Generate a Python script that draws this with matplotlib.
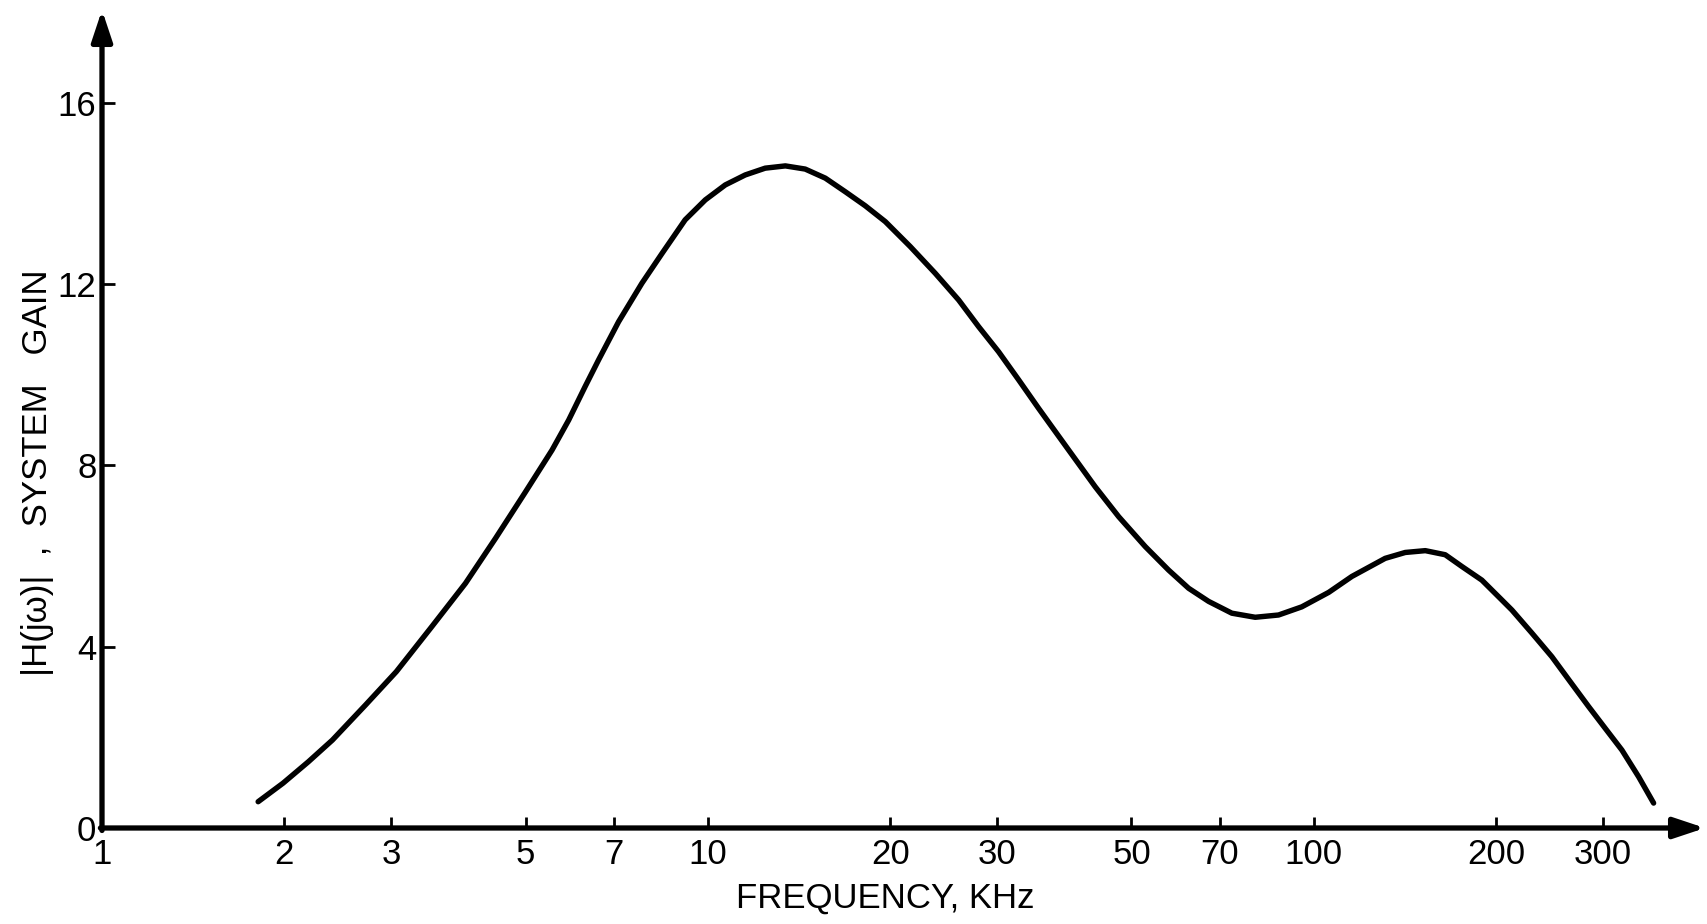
import matplotlib.pyplot as plt
import numpy as np

# gain curve
freq_khz = [1.81, 1.99, 2.19, 2.40, 2.72, 3.06, 3.50, 3.98, 4.46, 4.99,
            5.53, 5.89, 6.27, 6.60, 7.12, 7.78, 8.40, 9.17, 9.90, 10.68,
            11.52, 12.43, 13.42, 14.47, 15.62, 16.85, 18.18, 19.62, 21.57, 23.72,
            25.93, 27.98, 30.17, 32.56, 35.13, 36.96, 39.38, 43.56, 47.62, 52.68,
            57.58, 62.12, 67.03, 73.21, 80.01, 87.43, 95.5, 105.8, 115.5, 131.1,
            141.5, 152.7, 164.7, 175.5, 189.3, 204.3, 212.2, 229.0, 247.0, 264.8,
            284.0, 302.5, 322.3, 343.5, 363.6]
gain = [0.58, 0.99, 1.46, 1.94, 2.71, 3.45, 4.44, 5.40, 6.39, 7.40,
        8.34, 9.00, 9.74, 10.33, 11.17, 12.02, 12.68, 13.42, 13.86, 14.19,
        14.41, 14.56, 14.61, 14.54, 14.34, 14.04, 13.73, 13.38, 12.83, 12.24,
        11.65, 11.06, 10.51, 9.89, 9.26, 8.85, 8.34, 7.53, 6.87, 6.21,
        5.69, 5.29, 5.00, 4.74, 4.65, 4.70, 4.88, 5.20, 5.55, 5.95,
        6.08, 6.12, 6.03, 5.77, 5.47, 5.03, 4.81, 4.30, 3.78, 3.23,
        2.68, 2.20, 1.72, 1.13, 0.55]

x_ticks = [1, 2, 3, 5, 7, 10, 20, 30, 50, 70, 100, 200, 300]
x_tick_labels = ["1", "2", "3", "5", "7", "10", "20", "30", "50", "70", "100", "200", "300"]
y_ticks = [0, 4, 8, 12, 16]
y_tick_labels = ["0", "4", "8", "12", "16"]

plt.rcParams["font.family"] = ["Liberation Sans", "DejaVu Sans"]

fig = plt.figure(figsize=(17.08, 9.24), dpi=100)
fig.patch.set_facecolor("white")
ax = fig.add_axes([102 / 1708, 96 / 924, (1705 - 102) / 1708, (828 - 10) / 924])

ax.set_xscale("log")
ax.set_xlim(1, 442)
ax.set_ylim(0, 18.05)

ax.plot(freq_khz, gain, color="black", lw=3.9, solid_capstyle="round",
        solid_joinstyle="round")

# axes drawn as arrows instead of spines
for s in ax.spines.values():
    s.set_visible(False)
arrow = dict(arrowstyle="-|>,head_length=0.75,head_width=0.25", lw=3.8,
             color="black", shrinkA=0, shrinkB=0, mutation_scale=25)
ax.annotate("", xy=(1, 0), xytext=(-0.001, 0), xycoords="axes fraction",
            arrowprops=arrow)
ax.annotate("", xy=(0, 1), xytext=(0, -0.003), xycoords="axes fraction",
            arrowprops=arrow)

ax.set_xticks(x_ticks)
ax.set_xticklabels(x_tick_labels)
ax.minorticks_off()
ax.set_yticks(y_ticks)
ax.set_yticklabels(y_tick_labels)
ax.tick_params(axis="x", direction="in", length=8, width=2.0, pad=7,
               labelsize=25)
ax.tick_params(axis="y", direction="in", length=9, width=2.0, pad=4,
               labelsize=25)

fig.text(885 / 1708, 1 - 898 / 924, "FREQUENCY, KHz", fontsize=25,
         ha="center", va="center")
fig.text(38 / 1708, 1 - 473 / 924, "|H(jω)|  ,  SYSTEM   GAIN", fontsize=25,
         ha="center", va="center", rotation=90)

fig.savefig("out.png", dpi=100, facecolor="white")
